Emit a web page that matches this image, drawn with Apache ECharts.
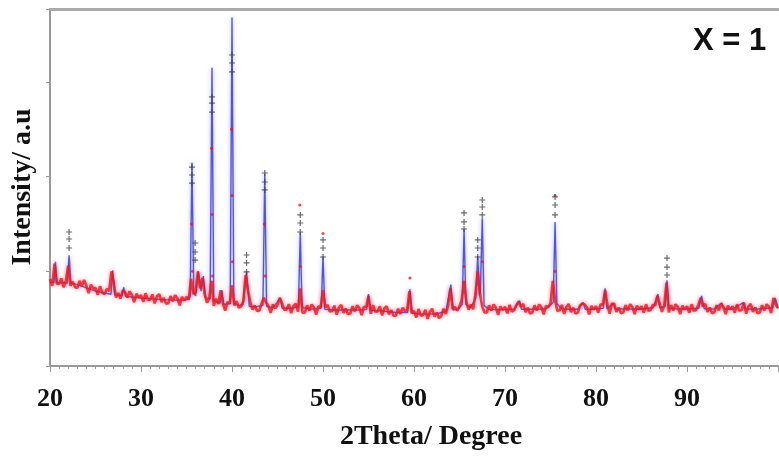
<!DOCTYPE html>
<html>
<head>
<meta charset="utf-8">
<script src="https://cdn.jsdelivr.net/npm/echarts@6/dist/echarts.min.js"></script>
<style>
html,body{margin:0;padding:0;background:#fff;}
#chart{width:779px;height:456px;}
</style>
</head>
<body>
<div id="chart"></div>
<script>
// observed intensity, 2Theta from 20 to 100 in steps of 0.25
var obsStart = 20, obsStep = 0.25;
var obsIntensity = [
 917, 847,1080, 867,  870, 925, 830, 905, 1060, 846, 891, 831,  825, 900, 845, 910,
 845, 770, 860, 820,  822, 752, 842, 772,  760, 815, 790,1000,  880, 725, 770, 710,
 800, 779, 724, 789,  748, 673, 763, 723,  748, 678, 768, 698,  701, 756, 661, 736,
 759, 674, 719, 659,  663, 738, 683, 748,  715, 640, 730, 690,  730, 700, 920, 760,
 780,1000, 820, 930,  755, 670, 715, 900,  635, 710, 655, 800,  660, 585, 675, 660,
 850, 640, 685, 615,  630, 685, 960, 800,  680, 595, 640, 580,  585, 660, 720, 670,
 635, 560, 650, 610,  642, 720, 662, 592,  598, 653, 558, 633,  660, 575, 820, 560,
 565, 640, 585, 650,  617, 542, 632, 620,  800, 620, 645, 575,  582, 637, 542, 617,
 647, 562, 607, 547,  557, 632, 577, 642,  612, 537, 627, 620,  740, 552, 642, 572,
 575, 630, 535, 610,  630, 545, 590, 530,  530, 605, 550, 615,  580, 590, 790, 555,
 582, 512, 602, 532,  538, 593, 498, 573,  605, 520, 565, 505,  530, 605, 550, 640,
 820, 600, 625, 585,  630, 700, 900, 680,  595, 650, 600, 760, 1000, 760, 625, 565,
 565, 640, 585, 650,  615, 540, 630, 590,  625, 555, 645, 575,  590, 645, 680, 625,
 655, 570, 615, 555,  565, 640, 585, 650,  620, 545, 635, 620,  660, 900, 700, 580,
 590, 645, 550, 625,  655, 570, 615, 555,  565, 640, 660, 650,  620, 545, 635, 595,
 632, 562, 652, 640,  800, 647, 552, 660,  657, 572, 617, 557,  567, 642, 587, 652,
 622, 547, 637, 597,  632, 562, 652, 582,  592, 647, 640, 740,  657, 572, 640, 880,
 567, 642, 587, 652,  622, 547, 637, 597,  632, 562, 652, 582,  592, 647, 720, 627,
 657, 572, 617, 557,  567, 642, 587, 660,  622, 547, 637, 597,  632, 562, 652, 582,
 592, 670, 552, 627,  657, 572, 617, 557,  567, 642, 587, 652,  625, 560, 720, 650,
 610
];

// observed points on the tall peaks [2Theta, intensity]
var obsPeakPoints = [
 [35.55,1500],[35.65,1000],[37.75,2300],[37.8,1600],[37.85,950],
 [39.95,2500],[40.0,1800],[40.05,1100],[43.55,1500],[43.65,950],
 [47.45,1700],[47.5,1050],[50.0,1400],[59.55,930],[65.5,1050],
 [67.5,1100],[75.5,1800],[75.5,1000]
];

// calculated profile [2Theta, intensity]
var calcProfile = [
 [20.0,885],[20.45,880],[20.6,1100],[20.75,880],[21.0,880],[21.5,878],[21.9,876],[22.1,1170],[22.3,874],
 [23,860],[24,825],[25,792],[26,770],[26.7,758],[26.9,1010],[27.1,754],[27.9,740],[28.1,830],[28.3,737],
 [29,728],[30,718],[31,711],[32,704],[33,698],[34,695],[35.0,700],[35.4,730],[35.6,2150],[35.8,780],
 [36.0,740],[36.3,1000],[36.6,790],[36.85,950],[37.1,720],[37.6,710],[37.8,3150],[38.0,690],
 [38.7,665],[38.9,800],[39.1,650],[39.8,660],[40.0,3680],[40.2,660],[40.8,640],[41.2,650],[41.6,1000],[41.9,630],
 [42.5,625],[43.4,640],[43.6,2030],[43.8,630],[44.5,615],[45.3,715],[45.5,612],[46.5,607],
 [47.3,630],[47.5,1410],[47.7,620],[48.5,600],[49.8,610],[50.0,1160],[50.2,600],[51,592],[52,592],[53,592],[54,592],
 [54.8,595],[55.0,760],[55.2,592],[56,585],[57,575],[58,565],[59.3,565],[59.55,810],[59.8,558],[60.5,550],[61.5,548],
 [62.5,552],[63.5,575],[64.05,860],[64.3,590],[64.8,600],[65.3,650],[65.5,1450],[65.7,650],[66.2,615],
 [66.8,720],[67.0,1160],[67.2,740],[67.3,800],[67.5,1560],[67.7,640],[68.2,600],[69,595],[70,595],[71,600],
 [71.6,690],[71.8,600],[72.5,600],[73.5,600],[74.5,605],[75.3,670],[75.5,1520],[75.7,660],[76.2,605],[77,600],
 [78,600],[78.6,670],[78.8,600],[79.5,600],[80.8,610],[81.0,820],[81.2,605],[81.9,660],[82.1,602],[83,602],
 [84,602],[85,602],[86.3,615],[86.8,760],[87.0,615],[87.6,630],[87.8,905],[88.0,610],[89,602],[90,602],
 [91.3,610],[91.6,740],[91.9,605],[93,602],[93.8,665],[94.1,602],[95,602],[96.2,670],[96.4,602],[97,602],
 [98,602],[99.4,615],[99.7,720],[100,615]
];

// peak marker positions [2Theta, intensity]
var peakMarkers = [
 [22.1,1415],[22.1,1341],[22.1,1246],
 [35.6,2101],[35.6,2017],[35.6,1932],
 [35.95,1299],[35.95,1204],[35.95,1119],
 [37.8,2841],[37.8,2777],[37.8,2682],
 [40.0,3284],[40.0,3200],[40.0,3105],
 [41.6,1172],[41.6,1088],[41.6,993],
 [43.6,2038],[43.6,1943],[43.6,1859],
 [47.5,1595],[47.5,1510],[47.5,1415],
 [50.0,1331],[50.0,1246],[50.0,1151],
 [65.5,1616],[65.5,1521],[65.5,1447],
 [67.0,1331],[67.0,1246],[67.0,1151],
 [67.5,1753],[67.5,1679],[67.5,1595],
 [75.5,1785],[75.5,1700],[75.5,1595],
 [87.8,1140],[87.8,1045],[87.8,961]
];

var xTitle = '2Theta/ Degree';
var yTitle = 'Intensity/ a.u';
var panelLabel = 'X = 1';

var obsData = obsIntensity.map(function (v, i) { return [obsStart + i * obsStep, v]; });

var chart = echarts.init(document.getElementById('chart'), null, {renderer: 'canvas'});
var serifBold = {fontFamily: 'Liberation Serif', fontWeight: 'bold', color: '#111'};

chart.setOption({
  animation: false,
  backgroundColor: '#fff',
  grid: {left: 50, right: 1, top: 9, bottom: 90, containLabel: false},
  xAxis: [{
    type: 'value', min: 20, max: 100, interval: 10,
    axisLine: {show: true, lineStyle: {color: '#999', width: 2}},
    axisTick: {show: true, length: 6, lineStyle: {color: '#999'}},
    minorTick: {show: true, splitNumber: 10, length: 3, lineStyle: {color: '#999'}},
    splitLine: {show: false},
    axisLabel: Object.assign({fontSize: 26, margin: 20, showMaxLabel: false}, serifBold)
  }, {
    type: 'value', min: 20, max: 100, position: 'top',
    axisLine: {show: true, onZero: false, lineStyle: {color: '#aaa', width: 3}},
    axisTick: {show: false}, axisLabel: {show: false}, splitLine: {show: false}
  }],
  yAxis: {
    type: 'value', min: 0, max: 3770, interval: 1000,
    axisLine: {show: true, lineStyle: {color: '#999', width: 2}},
    axisTick: {show: true, length: 4, lineStyle: {color: '#999'}},
    axisLabel: {show: false},
    splitLine: {show: false}
  },
  graphic: [
    {type: 'text', left: 693, top: 26, style: {text: panelLabel, font: 'bold 31px "Liberation Sans"', fill: '#111'}},
    {type: 'text', x: 431, y: 437, style: {text: xTitle, font: 'bold 28px "Liberation Serif"', fill: '#111', textAlign: 'center', textVerticalAlign: 'middle'}},
    {type: 'text', x: 23, y: 187, rotation: Math.PI / 2, style: {text: yTitle, font: 'bold 28px "Liberation Serif"', fill: '#111', textAlign: 'center', textVerticalAlign: 'middle'}}
  ],
  series: [
    {type: 'line', data: calcProfile, showSymbol: false, symbol: 'none',
     lineStyle: {color: 'rgba(60,60,210,0.85)', width: 1.4, shadowColor: 'rgba(90,90,230,0.6)', shadowBlur: 4}, z: 2},
    {type: 'line', data: obsData, showSymbol: false, symbol: 'none',
     lineStyle: {color: 'rgba(232,22,30,0.8)', width: 2.6, shadowColor: 'rgba(240,60,70,0.6)', shadowBlur: 4}, z: 3},
    {type: 'scatter', data: obsPeakPoints, symbol: 'circle', symbolSize: 3,
     itemStyle: {color: '#e8161e', opacity: 0.8}, z: 4},
    {type: 'scatter', data: peakMarkers, symbol: 'path://M4,0H6V4H10V6H6V10H4V6H0V4H4Z', symbolSize: 6,
     itemStyle: {color: '#444'}, z: 5}
  ]
});
</script>
</body>
</html>
